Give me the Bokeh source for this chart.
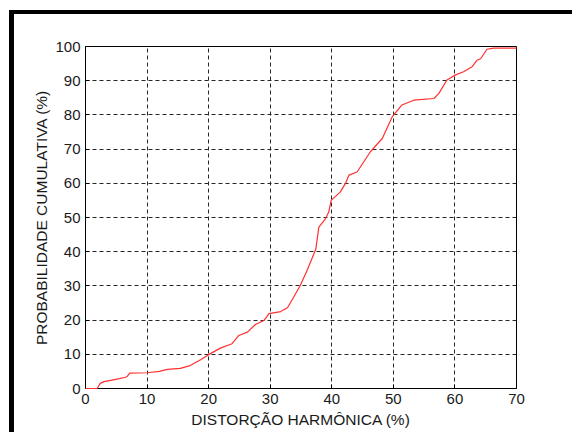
from bokeh.plotting import figure
from bokeh.models import FixedTicker, Range1d
from bokeh.layouts import column
from bokeh.embed import file_html
from bokeh.resources import INLINE

# Cumulative probability curve
distortion = [0, 1.9, 2.4, 3.0, 4.1, 5.5, 6.5, 6.8, 7.2, 10, 12, 13.3, 15.4, 17, 18.7, 20,
              21.9, 23.8, 24.9, 26.3, 27.6, 29, 29.8, 31.7, 32.8, 33.8, 34.9, 36, 37.4,
              37.9, 39, 39.5, 39.9, 41.4, 42.2, 42.8, 44.1, 46.3, 48.2, 49.8, 51.4, 53.3,
              56.6, 57.4, 58.7, 60.1, 61.4, 62.8, 63.6, 64.2, 65.2, 66.3, 70]
probability = [0, 0, 1.5, 2.0, 2.4, 2.9, 3.3, 3.6, 4.5, 4.6, 5.0, 5.6, 5.9, 6.7, 8.4, 9.9,
               11.8, 13.1, 15.5, 16.5, 18.7, 19.9, 21.9, 22.5, 23.6, 26.7, 30.2, 34.6, 40.7,
               47.2, 49.7, 51.6, 55, 57.5, 59.9, 62.4, 63.3, 69.3, 73.1, 79.4, 82.9, 84.3,
               84.8, 86.3, 90.2, 91.7, 92.6, 94.1, 96, 96.5, 99.2, 99.5, 99.5]

x_ticks = [0, 10, 20, 30, 40, 50, 60, 70]
y_ticks = [0, 10, 20, 30, 40, 50, 60, 70, 80, 90, 100]
x_title = "DISTORÇÃO HARMÔNICA (%)"
y_title = "PROBABILIDADE CUMULATIVA (%)"

FONT = "Liberation Sans"
TXT = "#1a1a1a"

p = figure(frame_width=431, frame_height=342, output_backend="svg", toolbar_location=None,
           x_range=Range1d(0, 70), y_range=Range1d(0, 100),
           min_border_left=71, min_border_right=56, min_border_top=32, min_border_bottom=44,
           background_fill_color="white", border_fill_color="white")

r = p.line(distortion, probability, line_color="#ff3030", line_width=1.2)
r.level = "overlay"

for ax in (p.xaxis[0], p.yaxis[0]):
    ax.major_label_text_font = FONT
    ax.major_label_text_font_size = "15px"
    ax.major_label_text_color = TXT
    ax.axis_label_text_font = FONT
    ax.axis_label_text_font_size = "15.5px"
    ax.axis_label_text_font_style = "normal"
    ax.axis_label_text_color = TXT
    ax.axis_line_color = "black"
    ax.major_tick_line_color = "black"
    ax.major_tick_in = 4
    ax.major_tick_out = 0
    ax.minor_tick_line_color = None
    ax.major_label_standoff = 5

p.xaxis[0].ticker = FixedTicker(ticks=x_ticks)
p.yaxis[0].ticker = FixedTicker(ticks=y_ticks)
p.xaxis[0].axis_label = x_title
p.yaxis[0].axis_label = y_title
p.xaxis[0].axis_label_standoff = 4
p.yaxis[0].axis_label_standoff = 2

p.xgrid.ticker = FixedTicker(ticks=x_ticks)
p.ygrid.ticker = FixedTicker(ticks=y_ticks)
for g in (p.xgrid[0], p.ygrid[0]):
    g.grid_line_color = "#262626"
    g.grid_line_dash = "4 3"
    g.grid_line_width = 1

p.outline_line_color = "black"

page = column(p, styles={"border-top": "4px solid black", "border-left": "5px solid black",
                         "margin-top": "10px", "margin-left": "9px",
                         "background-color": "white"})

open("out.html", "w").write(file_html(page, INLINE))
